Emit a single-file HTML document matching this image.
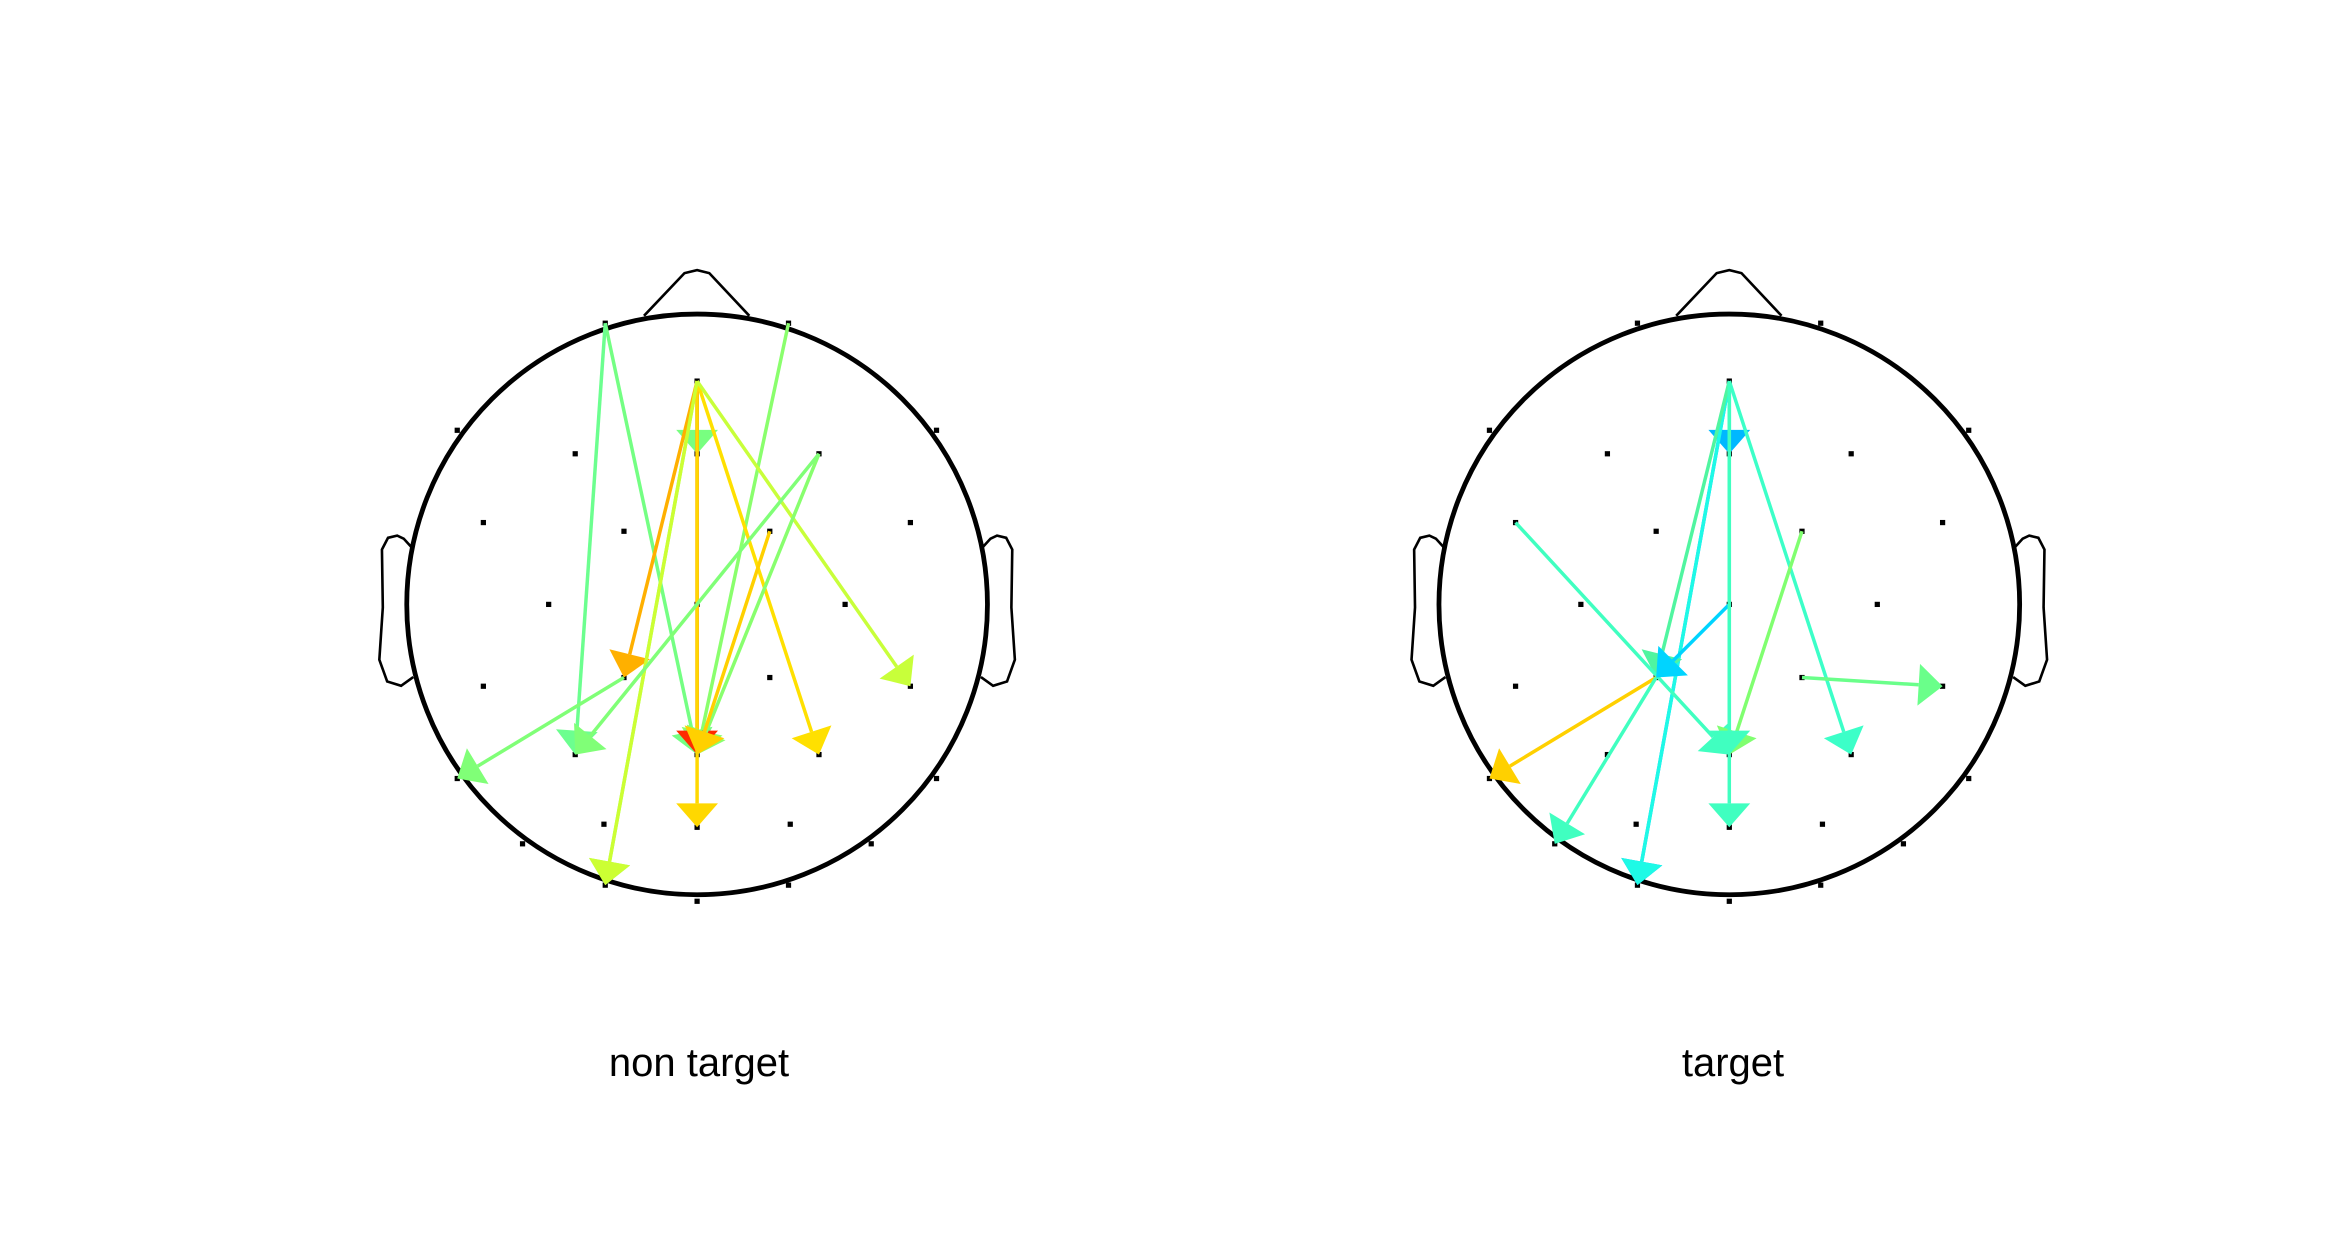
<!DOCTYPE html>
<html><head><meta charset="utf-8"><style>
html,body{margin:0;padding:0;background:#fff;}
svg{display:block;}
text{font-family:"Liberation Sans",Arial,sans-serif;}
</style></head><body>
<svg id="chart" width="2344" height="1250" viewBox="0 0 2344 1250" xmlns="http://www.w3.org/2000/svg">
<rect width="2344" height="1250" fill="#fff"/>
<g id="headL" transform="translate(697.1,604.4) scale(0.4353)"></g>
<g id="headR" transform="translate(1729.3,604.4) scale(0.4353)"></g>
<text x="699" y="1076" font-size="40" text-anchor="middle" fill="#000">non target</text>
<text x="1733" y="1076" font-size="40" text-anchor="middle" fill="#000">target</text>
</svg>
<script>
const electrodeNames = ["Fp1","Fp2","Fz","F7","F8","F3","F4","AFz","FC5","FC6","FC1","FC2","C3","C4","Cz","CP5","CP6","CP1","CP2","P7","P8","P3","P4","Pz","PO3","PO4","POz","PO7","PO8","O1","O2","Oz"];
const electrodeX = [-211,210,0,-551,550,-280,280,0,-491,490,-168,167,-341,340,0,-491,490,-168,167,-551,550,-280,280,0,-214,214,0,-401,400,-211,210,0];
const electrodeY = [-646,-646,-513,-400,-400,-346,-346,-346,-188,-188,-168,-168,0,0,0,188,188,168,168,400,400,345,345,345,505,505,512,550,550,645,645,682];

const nonTargetFrom  = ["Fz","Fp1","Fp1","Fp2","Fz","Fz","Fz","Fz","Fz","Fz","Fz","F4","F4","CP1","FC2"];
const nonTargetTo    = ["O1","Pz","P3","Pz","AFz","CP1","Pz","POz","P4","CP6","O1","Pz","P3","P7","Pz"];
const nonTargetColor = ["#90ff68","#74ff83","#6cff8f","#8aff6d","#78ff80","#ffb000","#ff2a00","#ffd800","#ffe000","#c8ff3a","#ccff33","#88ff6e","#80ff77","#80ff77","#ffd000"];

const targetFrom  = ["Fz","Fz","Fz","Fz","Fz","Fz","FC5","Cz","FC2","CP2","CP1","CP1","Fz"];
const targetTo    = ["AFz","O1","O1","CP1","POz","P4","Pz","CP1","Pz","CP6","P7","PO7","Pz"];
const targetColor = ["#00b8ff","#00aaff","#1efae6","#50f5a0","#40ffc0","#3cffc8","#40ffc0","#00d4ff","#80ff70","#6aff8a","#ffd000","#40ffc0","#40ffc0"];

const NS="http://www.w3.org/2000/svg";
function mk(tag, attrs, parent){const e=document.createElementNS(NS,tag);for(const k in attrs)e.setAttribute(k,attrs[k]);parent.appendChild(e);return e;}
function pos(name){const i=electrodeNames.indexOf(name);return [electrodeX[i],electrodeY[i]];}

function drawHead(g, from, to, colors){
  const nose=mk('polyline',{points:"-122,-663 -29,-761 0,-768 28,-761 120,-663",fill:"none",stroke:"#000","stroke-width":6},g);
  
  
  const earPts=[[-655,-130],[-674,-151],[-689,-158],[-710,-153],[-724,-126],[-722,7],[-730,127],[-712,177],[-680,187],[-652,167]];
  const earL=mk('polyline',{points:earPts.map(p=>p.join(',')).join(' '),fill:"none",stroke:"#000","stroke-width":6},g);
  
  
  const earR=mk('polyline',{points:earPts.map(p=>(-p[0])+','+p[1]).join(' '),fill:"none",stroke:"#000","stroke-width":6},g);
  
  
  const c=mk('circle',{cx:0,cy:0,r:667,fill:"#fff",stroke:"#000","stroke-width":11},g);
  
  
  for(let i=0;i<electrodeNames.length;i++){
    const d=mk('rect',{x:electrodeX[i]-6,y:electrodeY[i]-6,width:12,height:12,fill:"#000"},g);
    
    
  }
  for(let i=0;i<from.length;i++){
    const a=pos(from[i]), b=pos(to[i]);
    const dx=b[0]-a[0], dy=b[1]-a[1], L=Math.hypot(dx,dy), ux=dx/L, uy=dy/L;
    const hl=55, hw=48;
    const bx=b[0]-ux*hl, by=b[1]-uy*hl;
    const ln=mk('line',{x1:a[0],y1:a[1],x2:bx,y2:by,stroke:colors[i],"stroke-width":8},g);
    
    
    const hd=mk('polygon',{points:`${b[0]},${b[1]} ${bx-uy*hw},${by+ux*hw} ${bx+uy*hw},${by-ux*hw}`,fill:colors[i]},g);
    
    
  }
}
drawHead(document.getElementById('headL'), nonTargetFrom, nonTargetTo, nonTargetColor);
drawHead(document.getElementById('headR'), targetFrom, targetTo, targetColor);
</script>
</body></html>
